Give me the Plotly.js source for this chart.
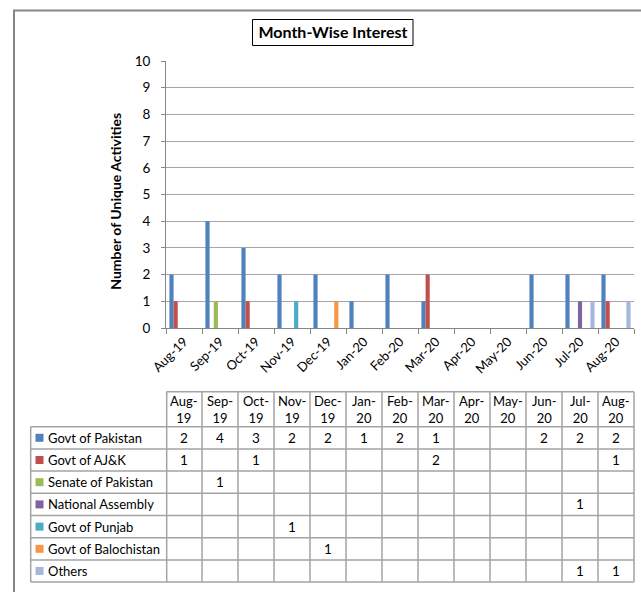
<!DOCTYPE html>
<html>
<head>
<meta charset="utf-8">
<script src="https://cdn.plot.ly/plotly-3.0.1.min.js"></script>
<style>html,body{margin:0;padding:0;background:#fff;overflow:hidden;}#chart{width:641px;height:592px;}</style>
</head>
<body>
<div id="chart"></div>
<script>
// ---- data ----
var months = ['Aug-19','Sep-19','Oct-19','Nov-19','Dec-19','Jan-20','Feb-20','Mar-20','Apr-20','May-20','Jun-20','Jul-20','Aug-20'];
var headerLines = [['Aug-','19'],['Sep-','19'],['Oct-','19'],['Nov-','19'],['Dec-','19'],['Jan-','20'],['Feb-','20'],['Mar-','20'],['Apr-','20'],['May-','20'],['Jun-','20'],['Jul-','20'],['Aug-','20']];
var seriesNames = ['Govt of Pakistan','Govt of AJ&K','Senate of Pakistan','National Assembly','Govt of Punjab','Govt of Balochistan','Others'];
var govtPakistan    = [2,4,3,2,2,1,2,1,null,null,2,2,2];
var govtAJK         = [1,null,1,null,null,null,null,2,null,null,null,null,1];
var senatePakistan  = [null,1,null,null,null,null,null,null,null,null,null,null,null];
var nationalAssembly= [null,null,null,null,null,null,null,null,null,null,null,1,null];
var govtPunjab      = [null,null,null,1,null,null,null,null,null,null,null,null,null];
var govtBalochistan = [null,null,null,null,1,null,null,null,null,null,null,null,null];
var others          = [null,null,null,null,null,null,null,null,null,null,null,1,1];
var seriesValues = [govtPakistan, govtAJK, senatePakistan, nationalAssembly, govtPunjab, govtBalochistan, others];
var colors = ['#4F81BD','#C0504D','#9BBB59','#8064A2','#4BACC6','#F79646','#A4B8DC'];

// ---- layout geometry (pixels) ----
var W = 641, H = 592;
var mL = 166, mR = 7, mT = 61, mB = 264;
var plotW = W - mL - mR, plotH = H - mT - mB;
function px2x(px){ return (px - mL) / plotW; }
function py2y(py){ return (H - mB - py) / plotH; }

var FONT = 'Lato, "Open Sans", sans-serif';

var traces = seriesNames.map(function(name, k){
  return {
    type: 'bar', name: name, x: months, y: seriesValues[k],
    marker: {color: colors[k], line: {width: 0}},
    hoverinfo: 'x+y+name'
  };
});

// table geometry
var tblTop = 391.7, hdrBot = 426.7, rowH = 22.2, nRows = seriesNames.length;
var tblBot = hdrBot + rowH * nRows;
var legLeft = 30.7;
var lineCol = '#a3a3a3';

var shapes = [];
var annotations = [];

// outer chart frame (top and left edges visible)
shapes.push({type:'line', xref:'paper', yref:'paper', x0:px2x(13), x1:px2x(W), y0:py2y(10.5), y1:py2y(10.5),
  line:{color:'#858585', width:2}});
shapes.push({type:'line', xref:'paper', yref:'paper', x0:px2x(14), x1:px2x(14), y0:py2y(10), y1:py2y(H),
  line:{color:'#858585', width:2}});

// title box
shapes.push({type:'rect', xref:'paper', yref:'paper', x0:px2x(252.5), x1:px2x(413), y0:py2y(45.5), y1:py2y(19.5),
  line:{color:'#000', width:1}});

// table horizontal lines
shapes.push({type:'line', xref:'paper', yref:'paper', x0:px2x(mL+0.5), x1:px2x(634), y0:py2y(tblTop), y1:py2y(tblTop), line:{color:lineCol, width:1.5}});
for (var r = 0; r <= nRows; r++){
  var yy = hdrBot + r*rowH;
  shapes.push({type:'line', xref:'paper', yref:'paper', x0:px2x(legLeft), x1:px2x(634), y0:py2y(yy), y1:py2y(yy), line:{color:lineCol, width:1.5}});
}
// table vertical lines
shapes.push({type:'line', xref:'paper', yref:'paper', x0:px2x(legLeft), x1:px2x(legLeft), y0:py2y(hdrBot), y1:py2y(tblBot), line:{color:lineCol, width:1.5}});
for (var i = 0; i <= months.length; i++){
  var xr = (i === 0 || i === months.length) ? 'paper' : 'x';
  var xv = (i === 0) ? px2x(mL+0.7) : (i === months.length ? px2x(634) : i - 0.5);
  shapes.push({type:'line', xref:xr, yref:'paper', x0:xv, x1:xv, y0:py2y(tblTop), y1:py2y(tblBot), line:{color:lineCol, width:1.5}});
}

// header texts
months.forEach(function(m, i){
  annotations.push({xref:'x', yref:'paper', x:i, y:py2y(409), text:headerLines[i].join('<br>'), showarrow:false,
    font:{family:FONT, size:13, color:'#000'}, align:'center', xanchor:'center', yanchor:'middle'});
});
// legend column & cells
seriesNames.forEach(function(name, k){
  var cy = py2y(hdrBot + rowH*(k+0.5));
  shapes.push({type:'rect', xref:'paper', yref:'paper', x0:px2x(35.5), x1:px2x(43.5),
    y0:py2y(hdrBot + rowH*(k+0.5) + 4), y1:py2y(hdrBot + rowH*(k+0.5) - 4), fillcolor:colors[k], line:{width:0}});
  annotations.push({xref:'paper', yref:'paper', x:px2x(46), y:cy, text:name, showarrow:false,
    font:{family:FONT, size:13, color:'#000'}, xanchor:'left', yanchor:'middle'});
  seriesValues[k].forEach(function(v, i){
    if (v === null) return;
    annotations.push({xref:'x', yref:'paper', x:months[i], y:cy, text:String(v), showarrow:false,
      font:{family:FONT, size:13.5, color:'#000'}, xanchor:'center', yanchor:'middle'});
  });
});

var layout = {
  width: W, height: H,
  margin: {l:mL, r:mR, t:mT, b:mB, pad:0},
  paper_bgcolor:'#fff', plot_bgcolor:'#fff',
  showlegend:false,
  barmode:'group', bargap:0.19, bargroupgap:0,
  title:{text:'<b>Month-Wise Interest</b>', x:px2x(333), xref:'paper', xanchor:'center',
    y:1 - 32.5/H, yref:'container', yanchor:'middle', font:{family:FONT, size:16, color:'#000'}},
  font:{family:FONT, color:'#000'},
  xaxis:{type:'category', range:[-0.5, 12.5], showgrid:false, showline:true, linecolor:'#868686', linewidth:1,
    ticks:'outside', ticklen:5, tickcolor:'#868686', tickson:'boundaries', tickangle:-45,
    tickfont:{family:FONT, size:13, color:'#000'}, fixedrange:true, zeroline:false},
  yaxis:{range:[0,10], dtick:1, showgrid:true, gridcolor:'#a6a6a6', gridwidth:1, showline:true, linecolor:'#868686',
    ticks:'outside', ticklen:4, tickcolor:'#868686', ticklabelstandoff:8, zeroline:false,
    tickfont:{family:FONT, size:13.5, color:'#000'},
    title:{text:'<b>Number of Unique Activities&nbsp;&nbsp;&nbsp;&nbsp;</b>', standoff:9, font:{family:FONT, size:14, color:'#000'}}},
  shapes: shapes,
  annotations: annotations
};

Plotly.newPlot('chart', traces, layout, {displayModeBar:false, staticPlot:true});
</script>
</body>
</html>
